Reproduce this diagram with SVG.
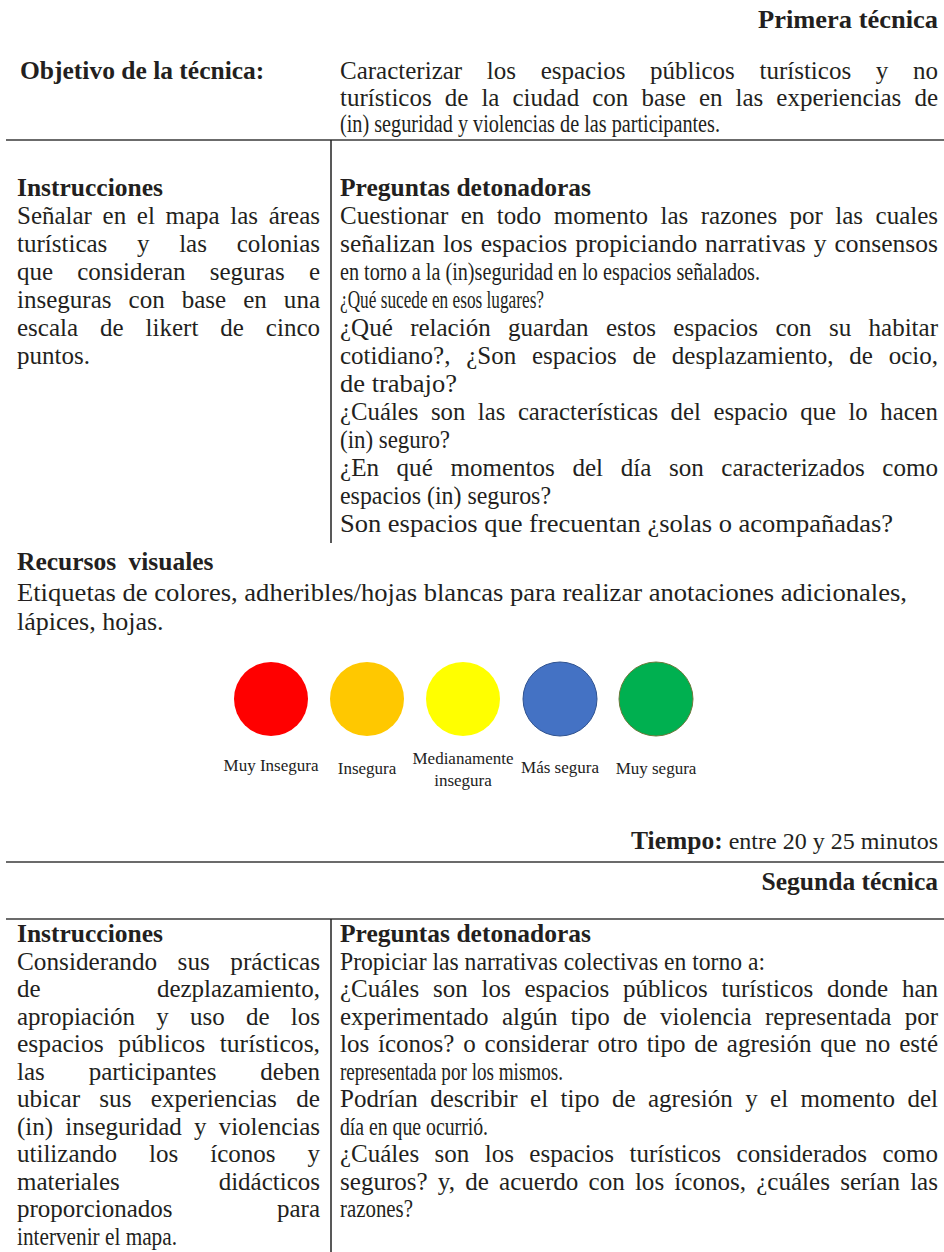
<svg xmlns="http://www.w3.org/2000/svg" width="944" height="1252" viewBox="0 0 944 1252">
<style>
text{fill:#231f20;font-family:"Liberation Serif","Times New Roman",serif}
.b{font-weight:bold;font-size:25.5px}
.t{font-size:25px}
.r{font-size:26px}
.s{font-size:17px;fill:#222}
.rule{stroke:#3a3a3a;stroke-width:1.6}
.vr{stroke:#222;stroke-width:1.5}
</style>
<rect width="944" height="1252" fill="#fff"/>
<g id="rules">
<line class="rule" x1="6" y1="140" x2="944" y2="140"/>
<line class="vr" x1="331" y1="140" x2="331" y2="543"/>
<line class="rule" x1="6" y1="862" x2="944" y2="862"/>
<line class="rule" x1="6" y1="919" x2="944" y2="919"/>
<line class="vr" x1="331" y1="919" x2="331" y2="1252"/>
</g>
<g id="tecnica1">
<text class="b" x="938" y="28" text-anchor="end" textLength="180" lengthAdjust="spacingAndGlyphs">Primera técnica</text>
<g id="objetivo">
<text class="b" x="20" y="79">Objetivo de la técnica:</text>
<text class="t" x="340" y="79" word-spacing="18.4" textLength="598" lengthAdjust="spacingAndGlyphs">Caracterizar los espacios públicos turísticos y no</text>
<text class="t" x="340" y="105.5" word-spacing="6.8" textLength="598" lengthAdjust="spacingAndGlyphs">turísticos de la ciudad con base en las experiencias de</text>
<text class="t" x="340" y="132" textLength="380" lengthAdjust="spacingAndGlyphs">(in) seguridad y violencias de las participantes.</text>
</g>
<g id="instrucciones1">
<text class="b" x="17" y="196">Instrucciones</text>
<text class="t" x="17" y="224" word-spacing="4.4" textLength="303" lengthAdjust="spacingAndGlyphs">Señalar en el mapa las áreas</text>
<text class="t" x="17" y="252" word-spacing="23.4" textLength="303" lengthAdjust="spacingAndGlyphs">turísticas y las colonias</text>
<text class="t" x="17" y="280" word-spacing="17.9" textLength="303" lengthAdjust="spacingAndGlyphs">que consideran seguras e</text>
<text class="t" x="17" y="308" word-spacing="10.8" textLength="303" lengthAdjust="spacingAndGlyphs">inseguras con base en una</text>
<text class="t" x="17" y="336" word-spacing="15.7" textLength="303" lengthAdjust="spacingAndGlyphs">escala de likert de cinco</text>
<text class="t" x="17" y="364">puntos.</text>
</g>
<g id="preguntas1">
<text class="b" x="340" y="196">Preguntas detonadoras</text>
<text class="t" x="340" y="224" word-spacing="6.2" textLength="598" lengthAdjust="spacingAndGlyphs">Cuestionar en todo momento las razones por las cuales</text>
<text class="t" x="340" y="252" word-spacing="1.5" textLength="598" lengthAdjust="spacingAndGlyphs">señalizan los espacios propiciando narrativas y consensos</text>
<text class="t" x="340" y="280" textLength="420" lengthAdjust="spacingAndGlyphs">en torno a la (in)seguridad en lo espacios señalados.</text>
<text class="t" x="340" y="308" textLength="204" lengthAdjust="spacingAndGlyphs">¿Qué sucede en esos lugares?</text>
<text class="t" x="340" y="336" word-spacing="11.1" textLength="598" lengthAdjust="spacingAndGlyphs">¿Qué relación guardan estos espacios con su habitar</text>
<text class="t" x="340" y="364" word-spacing="9.5" textLength="598" lengthAdjust="spacingAndGlyphs">cotidiano?, ¿Son espacios de desplazamiento, de ocio,</text>
<text class="t" x="340" y="392" textLength="117" lengthAdjust="spacingAndGlyphs">de trabajo?</text>
<text class="t" x="340" y="420" word-spacing="6.4" textLength="598" lengthAdjust="spacingAndGlyphs">¿Cuáles son las características del espacio que lo hacen</text>
<text class="t" x="340" y="448" textLength="110" lengthAdjust="spacingAndGlyphs">(in) seguro?</text>
<text class="t" x="340" y="476" word-spacing="11.3" textLength="598" lengthAdjust="spacingAndGlyphs">¿En qué momentos del día son caracterizados como</text>
<text class="t" x="340" y="504" textLength="211" lengthAdjust="spacingAndGlyphs">espacios (in) seguros?</text>
<text class="t" x="340" y="532" textLength="553" lengthAdjust="spacingAndGlyphs">Son espacios que frecuentan ¿solas o acompañadas?</text>
</g>
<g id="recursos">
<text class="b" x="17" y="570" font-size="26.5" word-spacing="6">Recursos visuales</text>
<text class="r" x="17" y="601" textLength="890" lengthAdjust="spacingAndGlyphs">Etiquetas de colores, adheribles/hojas blancas para realizar anotaciones adicionales,</text>
<text class="r" x="17" y="630">lápices, hojas.</text>
</g>
<g id="escala">
<g id="muy-insegura"><circle cx="271" cy="699" r="37" fill="#ff0000"/><text class="s" x="271" y="771" text-anchor="middle">Muy Insegura</text></g>
<g id="insegura"><circle cx="367" cy="699" r="37" fill="#ffc800"/><text class="s" x="367" y="774" text-anchor="middle">Insegura</text></g>
<g id="medianamente"><circle cx="463" cy="699" r="37" fill="#ffff00"/><text class="s" x="463" y="764" text-anchor="middle">Medianamente</text><text class="s" x="463" y="786" text-anchor="middle">insegura</text></g>
<g id="mas-segura"><circle cx="560" cy="699" r="37" fill="#4472c4" stroke="#2f528f" stroke-width="1"/><text class="s" x="560" y="773" text-anchor="middle">Más segura</text></g>
<g id="muy-segura"><circle cx="656" cy="699" r="37" fill="#00b050" stroke="#6b7a3a" stroke-width="1"/><text class="s" x="656" y="774" text-anchor="middle">Muy segura</text></g>
</g>
<text x="938" y="849" text-anchor="end" font-size="24"><tspan class="b">Tiempo:</tspan> entre 20 y 25 minutos</text>
</g>
<g id="tecnica2">
<text class="b" x="938" y="890" text-anchor="end">Segunda técnica</text>
<g id="instrucciones2">
<text class="b" x="17" y="942">Instrucciones</text>
<text class="t" x="17" y="969.5" word-spacing="14" textLength="303" lengthAdjust="spacingAndGlyphs">Considerando sus prácticas</text>
<text class="t" x="17" y="997">de</text>
<text class="t" x="320" y="997" text-anchor="end">dezplazamiento,</text>
<text class="t" x="17" y="1024.5" word-spacing="15" textLength="303" lengthAdjust="spacingAndGlyphs">apropiación y uso de los</text>
<text class="t" x="17" y="1052" word-spacing="8" textLength="303" lengthAdjust="spacingAndGlyphs">espacios públicos turísticos,</text>
<text class="t" x="17" y="1079.5" word-spacing="37.6" textLength="303" lengthAdjust="spacingAndGlyphs">las participantes deben</text>
<text class="t" x="17" y="1107" word-spacing="12.8" textLength="303" lengthAdjust="spacingAndGlyphs">ubicar sus experiencias de</text>
<text class="t" x="17" y="1134.5" word-spacing="5.9" textLength="303" lengthAdjust="spacingAndGlyphs">(in) inseguridad y violencias</text>
<text class="t" x="17" y="1162" word-spacing="25.7" textLength="303" lengthAdjust="spacingAndGlyphs">utilizando los íconos y</text>
<text class="t" x="17" y="1189.5">materiales</text>
<text class="t" x="320" y="1189.5" text-anchor="end">didácticos</text>
<text class="t" x="17" y="1217">proporcionados</text>
<text class="t" x="320" y="1217" text-anchor="end">para</text>
<text class="t" x="17" y="1244.5" textLength="160" lengthAdjust="spacingAndGlyphs">intervenir el mapa.</text>
</g>
<g id="preguntas2">
<text class="b" x="340" y="942">Preguntas detonadoras</text>
<text class="t" x="340" y="969.5" textLength="425" lengthAdjust="spacingAndGlyphs">Propiciar las narrativas colectivas en torno a:</text>
<text class="t" x="340" y="997" word-spacing="7.55" textLength="598" lengthAdjust="spacingAndGlyphs">¿Cuáles son los espacios públicos turísticos donde han</text>
<text class="t" x="340" y="1024.5" word-spacing="7.1" textLength="598" lengthAdjust="spacingAndGlyphs">experimentado algún tipo de violencia representada por</text>
<text class="t" x="340" y="1052" word-spacing="2.6" textLength="598" lengthAdjust="spacingAndGlyphs">los íconos? o considerar otro tipo de agresión que no esté</text>
<text class="t" x="340" y="1079.5" textLength="223" lengthAdjust="spacingAndGlyphs">representada por los mismos.</text>
<text class="t" x="340" y="1107" word-spacing="6.2" textLength="598" lengthAdjust="spacingAndGlyphs">Podrían describir el tipo de agresión y el momento del</text>
<text class="t" x="340" y="1134.5" textLength="148" lengthAdjust="spacingAndGlyphs">día en que ocurrió.</text>
<text class="t" x="340" y="1162" word-spacing="9.2" textLength="598" lengthAdjust="spacingAndGlyphs">¿Cuáles son los espacios turísticos considerados como</text>
<text class="t" x="340" y="1189.5" word-spacing="3.9" textLength="598" lengthAdjust="spacingAndGlyphs">seguros? y, de acuerdo con los íconos, ¿cuáles serían las</text>
<text class="t" x="340" y="1217" textLength="73" lengthAdjust="spacingAndGlyphs">razones?</text>
</g>
</g>
</svg>
